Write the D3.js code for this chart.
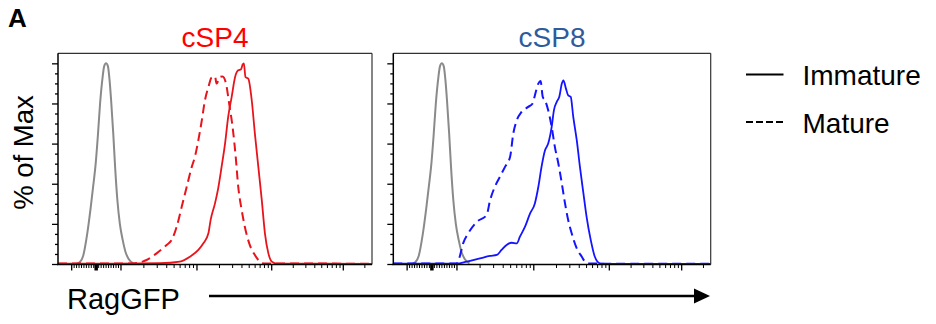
<!DOCTYPE html>
<html><head><meta charset="utf-8">
<script src="https://cdn.jsdelivr.net/npm/d3@7"></script>
<style>body{margin:0;background:#fff}svg{display:block}text{font-family:"Liberation Sans",Arial,sans-serif}</style>
</head><body>
<svg id="chart" width="936" height="324"></svg>
<script>
// ---- data: [channel (0-1000 display units), % of max] ----
const grayControl = [[58,0],[70,1],[80,4],[93,15],[104,28],[113,40],[120,50],[127,64],[134,80],[142,93],[147,98.5],[153,100],[159,98.5],[164,92],[169,82],[176,65],[182,48],[189,32],[197,20],[206,12],[215,6],[225,2.5],[240,0.3]];
const cSP4Immature = [[0,0.2],[150,0.2],[325,0.4],[388,1.2],[420,3.6],[447,7],[463,10.3],[479,15.3],[486,21.9],[500,30.2],[510,37.6],[521,48.4],[532,60],[542,73.3],[553,83.2],[564,93.2],[574,96.5],[583,97],[588,99.4],[592,100],[597,93.2],[606,92.4],[617,81.6],[627,65],[638,48.4],[649,31.8],[659,15.3],[670,5.3],[681,1.2],[697,0.2],[850,0.2],[1000,0.1]];
const cSP4Mature = [[0,0.2],[120,0.2],[239,0.3],[282,2],[314,5.3],[346,9.5],[362,12],[378,18.6],[394,28.5],[410,38.5],[426,48.4],[436,53.4],[447,61.7],[458,71.6],[468,81.6],[479,88.2],[489,92.9],[500,93.5],[505,89.9],[516,93.2],[524,93.5],[535,90],[545,80],[556,68.3],[566,53.4],[574,38.5],[585,26.9],[595,18.6],[609,10.3],[627,4.5],[643,1.2],[659,0.2],[850,0.2],[1000,0.1]];
const cSP8Immature = [[0,0.2],[150,0.2],[200,0.2],[231,1.2],[273,2.8],[305,4],[326,4.5],[341,7],[357,9.5],[373,10.6],[389,10.3],[399,13.6],[415,18.6],[431,25.2],[446,30.2],[457,38.5],[467,48.4],[478,56.7],[488,60],[499,68.3],[506,76.6],[515,80.8],[523,83.3],[531,89.9],[536,91.5],[544,87.4],[551,84],[559,83.3],[567,73.3],[578,61.7],[588,48.4],[599,35.2],[609,23.5],[622,12],[635,3.6],[651,0.3],[667,0.1],[1000,0.1]];
const cSP8Mature = [[0,0.2],[200,0.2],[203,1],[208,3],[220,10.3],[236,15.3],[263,21],[294,24.4],[305,31.8],[320,38.5],[336,43.5],[352,48.4],[368,53.4],[378,65],[389,71.6],[404,75.8],[425,78.3],[439,80],[446,84],[457,89.9],[464,91.2],[471,83.2],[478,81.6],[488,76.6],[499,68.3],[509,58.4],[520,50.1],[531,40.1],[541,30.2],[551,21.9],[562,15.3],[578,7.8],[594,3.6],[604,1.2],[620,0.2],[1000,0.1]];

// ---- ticks ----
const yMajorTicks = [0, 20, 40, 60, 80, 100];
const yMinorTicks = d3.range(0, 101, 5).filter(v => v % 20 !== 0);
const xMajorTicks = [-100, 0, 100, 1000, 10000, 100000];
const xMinorTicks = [].concat(
  d3.range(-90, 0, 10), d3.range(10, 100, 10),
  d3.range(200, 1000, 100), d3.range(2000, 10000, 1000),
  d3.range(20000, 100000, 10000), [200000]);

// biexponential display transform: fluorescence -> channel (0-1000)
const linPart = d3.scaleLinear().domain([-100, 0, 100]).range([42, 120, 199]);
const logPart = d3.scaleLinear().domain([2, 3, 4, 5, 6]).range([199, 441, 679, 907, 1135]);
const chan = v => (Math.abs(v) <= 100 ? linPart(v) : (v > 0 ? logPart(Math.log10(v)) : linPart(-100) - (logPart(Math.log10(-v)) - 199)));

const svg = d3.select("#chart");
const y = d3.scaleLinear().domain([0, 105]).range([264, 53.3]);

const panels = [
  {title: "cSP4", titleColor: "#ff0000", lineColor: "#e8141c", left: 58, right: 372, solid: cSP4Immature, dashed: cSP4Mature},
  {title: "cSP8", titleColor: "#2f5b9c", lineColor: "#1414ff", left: 393.3, right: 710.7, solid: cSP8Immature, dashed: cSP8Mature}
];

panels.forEach(p => {
  const x = d3.scaleLinear().domain([0, 1000]).range([p.left, p.right]);
  const g = svg.append("g");
  const line = d3.line().x(d => x(d[0])).y(d => y(d[1])).curve(d3.curveMonotoneX);

  g.append("path").datum(grayControl).attr("d", line)
    .attr("fill", "none").attr("stroke", "#8a8a8a").attr("stroke-width", 2);
  g.append("path").datum(p.dashed).attr("d", line)
    .attr("fill", "none").attr("stroke", p.lineColor).attr("stroke-width", 2).attr("stroke-dasharray", "9,5");
  g.append("path").datum(p.solid).attr("d", line)
    .attr("fill", "none").attr("stroke", p.lineColor).attr("stroke-width", 1.8);

  // frame
  g.append("line").attr("x1", p.left).attr("x2", p.right).attr("y1", 53.3).attr("y2", 53.3).attr("stroke", "#333").attr("stroke-width", 1.2);
  g.append("line").attr("x1", p.right).attr("x2", p.right).attr("y1", 53.3).attr("y2", 264.5).attr("stroke", "#333").attr("stroke-width", 1.2);

  // y axis
  const yMaj = g.append("g").attr("transform", `translate(${p.left},0)`)
    .call(d3.axisLeft(y).tickValues(yMajorTicks).tickSize(6).tickFormat(""));
  yMaj.select(".domain").remove();
  const yMin = g.append("g").attr("transform", `translate(${p.left},0)`)
    .call(d3.axisLeft(y).tickValues(yMinorTicks).tickSize(3).tickFormat(""));
  yMin.select(".domain").remove();
  g.selectAll(".tick line").attr("stroke", "#000").attr("stroke-width", 1.3);

  // x axis
  const xMaj = g.append("g").attr("transform", "translate(0,264.5)")
    .call(d3.axisBottom(x).tickValues(xMajorTicks.map(chan)).tickSize(6).tickFormat(""));
  xMaj.select(".domain").remove();
  xMaj.selectAll(".tick line").attr("stroke", "#000").attr("stroke-width", (d, i) => xMajorTicks[i] === 0 ? 3.5 : 1.3);
  const xMin = g.append("g").attr("transform", "translate(0,264.5)")
    .call(d3.axisBottom(x).tickValues(xMinorTicks.map(chan)).tickSize(3.5).tickFormat(""));
  xMin.select(".domain").remove();
  xMin.selectAll(".tick line").attr("stroke", "#000").attr("stroke-width", 1);

  g.append("line").attr("x1", p.left).attr("x2", p.left).attr("y1", 53.3).attr("y2", 265).attr("stroke", "#000").attr("stroke-width", 1.5);
  g.append("line").attr("x1", p.left - 1).attr("x2", p.right).attr("y1", 264.5).attr("y2", 264.5).attr("stroke", "#000").attr("stroke-width", 1.5);

  g.append("text").attr("x", (p.left + p.right) / 2).attr("y", 46.5).attr("text-anchor", "middle")
    .attr("font-size", 28).attr("fill", p.titleColor).text(p.title);
});

// panel letter
svg.append("text").attr("x", 8).attr("y", 27).attr("font-size", 26).attr("font-weight", "bold").text("A");
// y label
svg.append("text").attr("transform", "translate(33,152.5) rotate(-90)").attr("text-anchor", "middle")
  .attr("font-size", 27.5).text("% of Max");
// x label + arrow
svg.append("text").attr("x", 67).attr("y", 308.5).attr("font-size", 29).text("RagGFP");
svg.append("line").attr("x1", 209).attr("x2", 696).attr("y1", 296).attr("y2", 296).attr("stroke", "#000").attr("stroke-width", 2.7);
svg.append("path").attr("d", "M694,288.5 L710,296 L694,303.5 Z").attr("fill", "#000");

// legend
const legendItems = [{label: "Immature", dash: null, y: 74.5}, {label: "Mature", dash: "7,3", y: 122}];
legendItems.forEach(it => {
  svg.append("line").attr("x1", 746).attr("x2", 783.5).attr("y1", it.y).attr("y2", it.y)
    .attr("stroke", "#000").attr("stroke-width", 2.2).attr("stroke-dasharray", it.dash);
  svg.append("text").attr("x", 802.5).attr("y", it.y + 10.5).attr("font-size", 28).text(it.label);
});
</script>
</body></html>
